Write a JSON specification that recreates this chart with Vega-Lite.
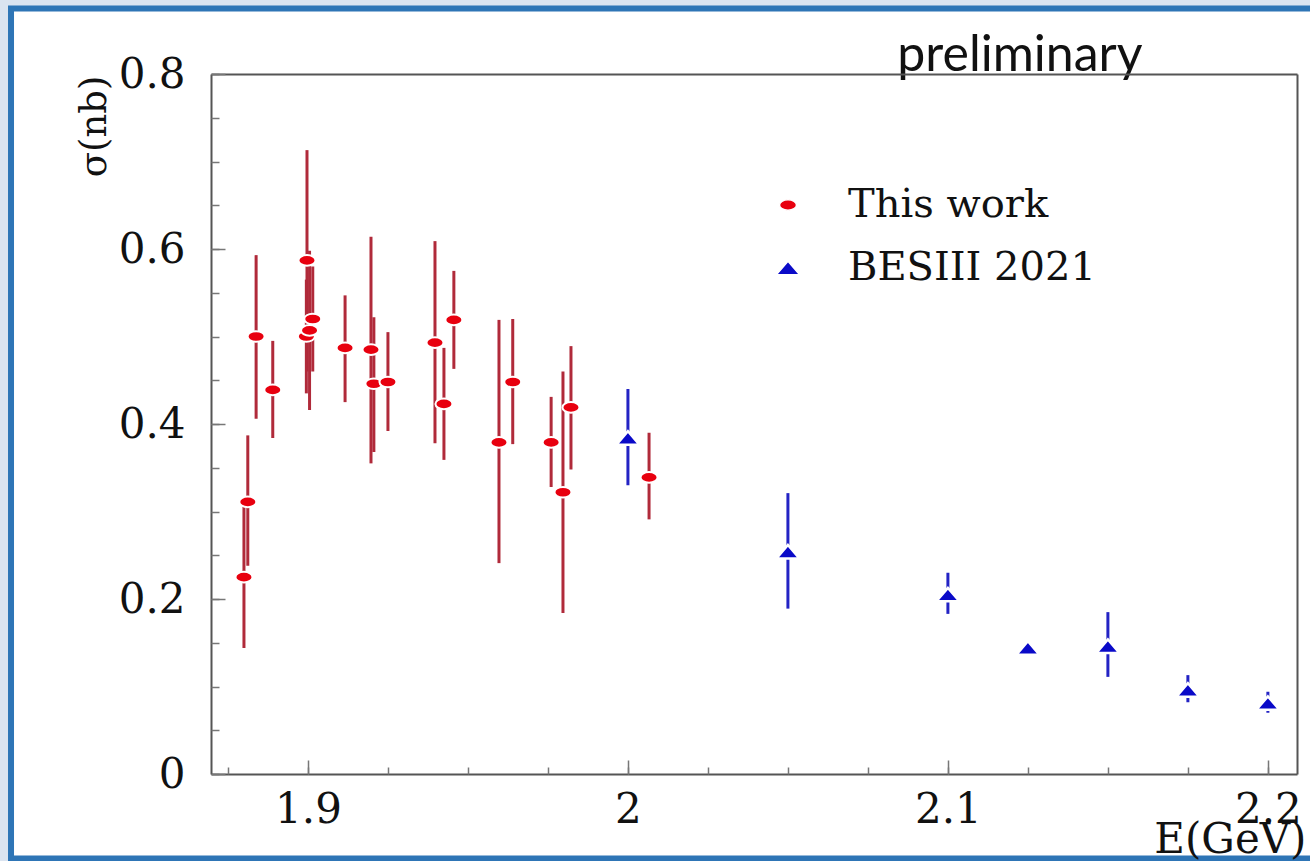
{
  "$schema": "https://vega.github.io/schema/vega-lite/v6.json",
  "width": 1086,
  "height": 700,
  "autosize": "none",
  "padding": {"left": 211, "top": 74, "right": 13, "bottom": 87},
  "background": "#dbe4f0",
  "data": {
    "values": [
      {"E": 1.8800, "sigma": 0.225, "lo": 0.144, "hi": 0.310, "series": "This work"},
      {"E": 1.8812, "sigma": 0.311, "lo": 0.238, "hi": 0.387, "series": "This work"},
      {"E": 1.8838, "sigma": 0.500, "lo": 0.406, "hi": 0.593, "series": "This work"},
      {"E": 1.8890, "sigma": 0.439, "lo": 0.384, "hi": 0.495, "series": "This work"},
      {"E": 1.8997, "sigma": 0.587, "lo": 0.460, "hi": 0.713, "series": "This work"},
      {"E": 1.8995, "sigma": 0.500, "lo": 0.435, "hi": 0.565, "series": "This work"},
      {"E": 1.9005, "sigma": 0.507, "lo": 0.416, "hi": 0.598, "series": "This work"},
      {"E": 1.9015, "sigma": 0.520, "lo": 0.460, "hi": 0.580, "series": "This work"},
      {"E": 1.9116, "sigma": 0.487, "lo": 0.425, "hi": 0.547, "series": "This work"},
      {"E": 1.9197, "sigma": 0.485, "lo": 0.355, "hi": 0.614, "series": "This work"},
      {"E": 1.9206, "sigma": 0.446, "lo": 0.368, "hi": 0.522, "series": "This work"},
      {"E": 1.9250, "sigma": 0.448, "lo": 0.392, "hi": 0.505, "series": "This work"},
      {"E": 1.9397, "sigma": 0.493, "lo": 0.378, "hi": 0.609, "series": "This work"},
      {"E": 1.9425, "sigma": 0.423, "lo": 0.359, "hi": 0.487, "series": "This work"},
      {"E": 1.9456, "sigma": 0.519, "lo": 0.463, "hi": 0.575, "series": "This work"},
      {"E": 1.9597, "sigma": 0.379, "lo": 0.241, "hi": 0.519, "series": "This work"},
      {"E": 1.9640, "sigma": 0.448, "lo": 0.377, "hi": 0.520, "series": "This work"},
      {"E": 1.9760, "sigma": 0.379, "lo": 0.328, "hi": 0.431, "series": "This work"},
      {"E": 1.9797, "sigma": 0.322, "lo": 0.184, "hi": 0.460, "series": "This work"},
      {"E": 1.9822, "sigma": 0.419, "lo": 0.348, "hi": 0.489, "series": "This work"},
      {"E": 2.0066, "sigma": 0.339, "lo": 0.291, "hi": 0.390, "series": "This work"},
      {"E": 2.000, "sigma": 0.384, "lo": 0.330, "hi": 0.440, "series": "BESIII 2021"},
      {"E": 2.050, "sigma": 0.254, "lo": 0.189, "hi": 0.321, "series": "BESIII 2021"},
      {"E": 2.100, "sigma": 0.205, "lo": 0.183, "hi": 0.230, "series": "BESIII 2021"},
      {"E": 2.125, "sigma": 0.144, "lo": 0.140, "hi": 0.148, "series": "BESIII 2021"},
      {"E": 2.150, "sigma": 0.146, "lo": 0.111, "hi": 0.185, "series": "BESIII 2021"},
      {"E": 2.175, "sigma": 0.096, "lo": 0.082, "hi": 0.113, "series": "BESIII 2021"},
      {"E": 2.200, "sigma": 0.081, "lo": 0.070, "hi": 0.094, "series": "BESIII 2021"}
    ]
  },
  "layer": [
    {
      "description": "slide panel behind the plot",
      "data": {"values": [{}]},
      "mark": {"type": "rect", "fill": "white", "stroke": "#2e75b6", "strokeWidth": 6},
      "encoding": {
        "x": {"datum": 1.8072, "type": "quantitative", "axis": null},
        "x2": {"datum": 2.23},
        "y": {"datum": 0.8749, "type": "quantitative", "axis": null},
        "y2": {"datum": -0.0966}
      }
    },
    {
      "description": "preliminary stamp above the frame",
      "data": {"values": [{}]},
      "mark": {
        "type": "text", "text": "preliminary", "font": "Lato", "fontSize": 50,
        "color": "#111111", "align": "center", "baseline": "alphabetic"
      },
      "encoding": {
        "x": {"datum": 2.1225, "type": "quantitative", "axis": null},
        "y": {"datum": 0.8034, "type": "quantitative", "axis": null}
      }
    },
    {
      "description": "error bars, this work",
      "transform": [{"filter": "datum.series === 'This work'"}],
      "mark": {"type": "rule", "strokeWidth": 3, "color": "#b02a3a"},
      "encoding": {
        "x": {
          "field": "E", "type": "quantitative",
          "scale": {"domain": [1.8697, 2.2091], "nice": false, "zero": false},
          "axis": {
            "orient": "bottom", "values": [1.9, 2, 2.1, 2.2], "format": "~g", "zindex": 1,
            "ticks": false, "grid": false, "domain": true,
            "labelPadding": 15, "labelBaseline": "top",
            "title": "E(GeV)", "titleAnchor": "end", "titleAlign": "right", "titleFontSize": 42,
            "titleX": 1095, "titleY": 78, "titleBaseline": "alphabetic"
          }
        },
        "y": {
          "field": "lo", "type": "quantitative",
          "scale": {"domain": [0, 0.8], "nice": false},
          "axis": {
            "orient": "left", "values": [0, 0.2, 0.4, 0.6, 0.8], "format": "~g", "zindex": 1,
            "ticks": false, "grid": false, "domain": true,
            "labelPadding": 26, "labelBaseline": "middle",
            "title": "σ(nb)", "titleAngle": 270, "titleAlign": "right", "titleFontSize": 37,
            "titleX": -106, "titleY": 1, "titleBaseline": "alphabetic"
          }
        },
        "y2": {"field": "hi"}
      }
    },
    {
      "description": "error bars, BESIII 2021",
      "transform": [{"filter": "datum.series === 'BESIII 2021'"}],
      "mark": {"type": "rule", "strokeWidth": 3, "color": "#2323c4"},
      "encoding": {
        "x": {
          "field": "E", "type": "quantitative",
          "axis": {"orient": "top", "zindex": 1, "labels": false, "ticks": false, "grid": false, "domain": true, "title": null}
        },
        "y": {
          "field": "lo", "type": "quantitative",
          "axis": {"orient": "right", "zindex": 1, "labels": false, "ticks": false, "grid": false, "domain": true, "title": null}
        },
        "y2": {"field": "hi"}
      }
    },
    {
      "transform": [{"filter": "datum.series === 'This work'"}],
      "mark": {"type": "point", "filled": true, "opacity": 1, "stroke": "white", "strokeWidth": 2, "size": 289},
      "encoding": {
        "x": {
          "field": "E", "type": "quantitative",
          "axis": {"orient": "bottom", "zindex": 1, "values": [1.9, 2, 2.1, 2.2], "labels": false, "domain": false, "grid": false, "tickSize": -14, "title": null}
        },
        "y": {
          "field": "sigma", "type": "quantitative",
          "axis": {"orient": "left", "zindex": 1, "values": [0, 0.2, 0.4, 0.6, 0.8], "labels": false, "domain": false, "grid": false, "tickSize": -14, "title": null}
        },
        "color": {
          "field": "series", "type": "nominal",
          "scale": {"domain": ["This work", "BESIII 2021"], "range": ["#e8000f", "#0a0ac8"]}
        },
        "shape": {
          "field": "series", "type": "nominal",
          "scale": {
            "domain": ["This work", "BESIII 2021"],
            "range": ["M -1 0 A 1 0.62 0 1 0 1 0 A 1 0.62 0 1 0 -1 0 Z", "M -1.35 0.78 L 1.35 0.78 L 0 -0.8 Z"]
          }
        }
      }
    },
    {
      "transform": [{"filter": "datum.series === 'BESIII 2021'"}],
      "mark": {"type": "point", "filled": true, "opacity": 1, "stroke": "white", "strokeWidth": 2.5, "size": 289},
      "encoding": {
        "x": {
          "field": "E", "type": "quantitative",
          "axis": {
            "orient": "bottom", "zindex": 1, "labels": false, "domain": false, "grid": false, "tickSize": -7, "title": null,
            "values": [1.875, 1.9, 1.925, 1.95, 1.975, 2.0, 2.025, 2.05, 2.075, 2.1, 2.125, 2.15, 2.175, 2.2]
          }
        },
        "y": {
          "field": "sigma", "type": "quantitative",
          "axis": {
            "orient": "left", "zindex": 1, "labels": false, "domain": false, "grid": false, "tickSize": -8, "title": null,
            "values": [0, 0.05, 0.1, 0.15, 0.2, 0.25, 0.3, 0.35, 0.4, 0.45, 0.5, 0.55, 0.6, 0.65, 0.7, 0.75, 0.8]
          }
        },
        "color": {"field": "series", "type": "nominal"},
        "shape": {"field": "series", "type": "nominal"}
      }
    }
  ],
  "resolve": {"axis": {"x": "independent", "y": "independent"}},
  "config": {
    "view": {"stroke": null},
    "axis": {
      "labelFont": "DejaVu Serif",
      "labelFontSize": 42,
      "labelColor": "#111111",
      "titleFont": "DejaVu Serif",
      "titleFontSize": 44,
      "titleFontWeight": "normal",
      "titleColor": "#111111",
      "domainColor": "#555555",
      "domainWidth": 2,
      "tickColor": "#777777",
      "tickWidth": 1.5,
      "labelOverlap": false,
      "labelFlush": false
    },
    "legend": {
      "orient": "none",
      "legendX": 557,
      "legendY": 111,
      "title": null,
      "direction": "vertical",
      "padding": 0,
      "zindex": 1,
      "labelFont": "DejaVu Serif",
      "labelFontSize": 40,
      "labelColor": "#111111",
      "symbolSize": 289,
      "rowPadding": 23,
      "labelOffset": 40,
      "labelLimit": 400
    }
  }
}
